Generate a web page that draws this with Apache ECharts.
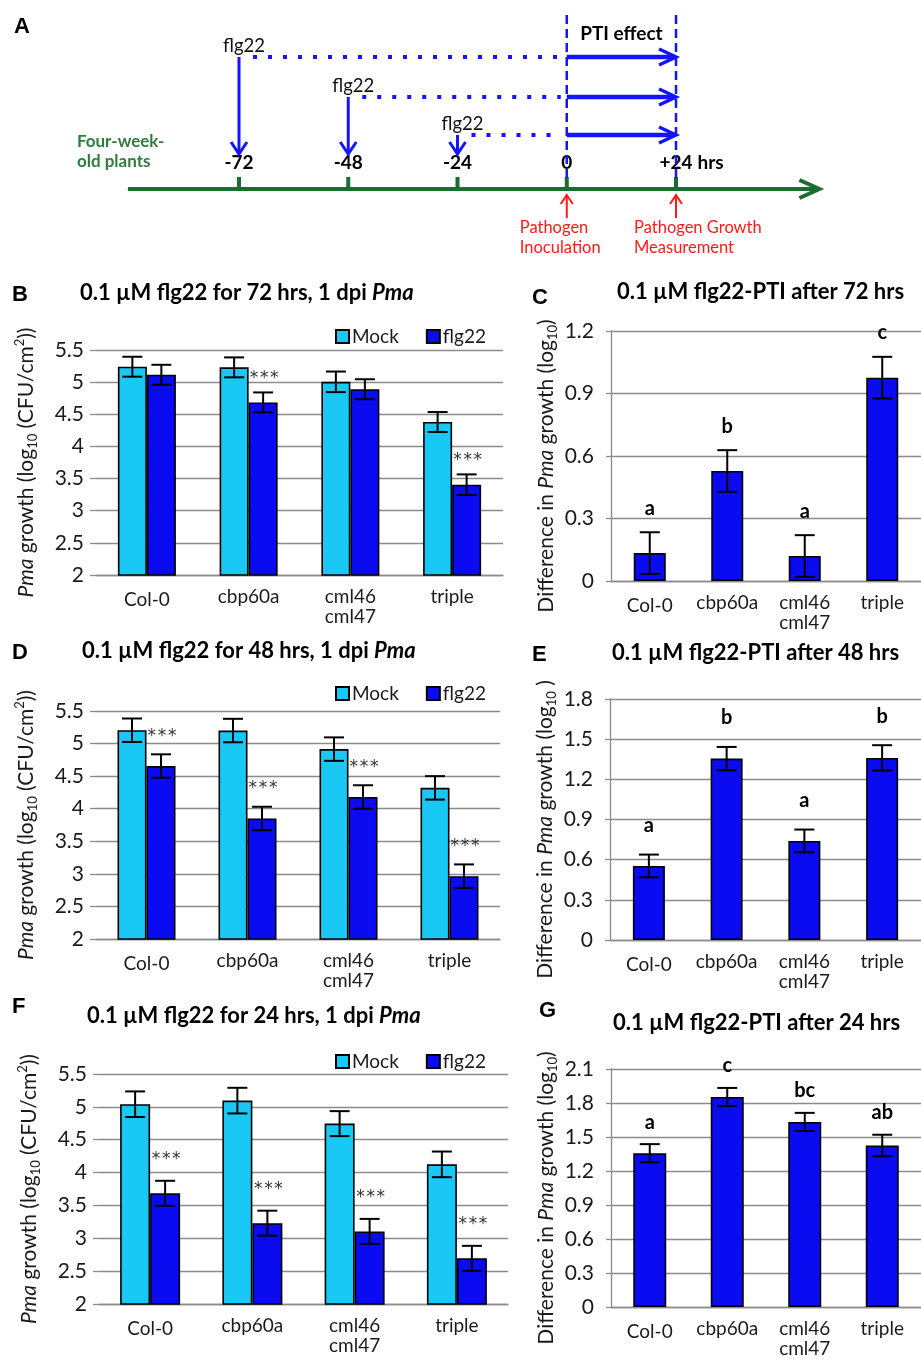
<!DOCTYPE html>
<html><head><meta charset="utf-8">
<script src="https://cdn.jsdelivr.net/npm/echarts@6/dist/echarts.min.js"></script>
<style>html,body{margin:0;padding:0;background:#fff}#c{width:921px;height:1359px}</style>
</head><body><div id="c"></div>
<script>
// ---------------- DATA ----------------
const categories = ['Col-0', 'cbp60a', 'cml46\ncml47', 'triple'];
const seriesNames = ['Mock', 'flg22'];

// Panel B: 0.1 uM flg22 for 72 hrs
const mock72 = [5.24, 5.23, 5.005, 4.38];
const mock72Err = [0.155, 0.155, 0.16, 0.155];
const flg72 = [5.115, 4.685, 4.89, 3.405];
const flg72Err = [0.155, 0.155, 0.155, 0.16];
const sig72 = ['', '***', '', '***'];
// Panel C
const diff72 = [0.134, 0.528, 0.12, 0.976];
const diff72Err = [0.1, 0.1, 0.1, 0.1];
const letters72 = ['a', 'b', 'a', 'c'];

// Panel D: 48 hrs
const mock48 = [5.205, 5.2, 4.915, 4.32];
const mock48Err = [0.18, 0.18, 0.18, 0.18];
const flg48 = [4.655, 3.85, 4.18, 2.965];
const flg48Err = [0.18, 0.18, 0.18, 0.18];
const sig48 = ['***', '***', '***', '***'];
// Panel E
const diff48 = [0.553, 1.355, 0.74, 1.36];
const diff48Err = [0.085, 0.087, 0.085, 0.095];
const letters48 = ['a', 'b', 'a', 'b'];

// Panel F: 24 hrs
const mock24 = [5.04, 5.095, 4.745, 4.125];
const mock24Err = [0.195, 0.195, 0.19, 0.195];
const flg24 = [3.685, 3.23, 3.105, 2.695];
const flg24Err = [0.19, 0.19, 0.19, 0.19];
const sig24 = ['***', '***', '***', '***'];
// Panel G
const diff24 = [1.357, 1.853, 1.633, 1.425];
const diff24Err = [0.08, 0.08, 0.08, 0.095];
const letters24 = ['a', 'c', 'bc', 'ab'];

// Axis ticks
const growthAxis = {min: 2, max: 5.5, interval: 0.5};
const diffAxes = [{min: 0, max: 1.2, interval: 0.3}, {min: 0, max: 1.8, interval: 0.3}, {min: 0, max: 2.1, interval: 0.3}];

// Panel A: timeline (hours)
const timelineTicks = [-72, -48, -24, 0, 24];
const timelineLabels = ['-72', '-48', '-24', '0', '+24'];
const timelineUnit = 'hrs';
const flgTimes = [-72, -48, -24];
const ptiWindow = [0, 24];

// ---------------- STYLE / LAYOUT ----------------
const FONT = 'Lato, "Open Sans", sans-serif';
const LETTER_FONT = '"Liberation Sans", Arial, sans-serif';
const STAR_FONT = '"DejaVu Sans", sans-serif';
const CYAN = '#1AC8F6', BLUE = '#0B0BF2', GRIDC = '#8C8C8C', TXT = '#1a1a1a';
const ABLUE = '#1414FF', AGREEN = '#1B6B33', TGREEN = '#2E7D3E', RED = '#FF1A1A';
const FS = 19;      // category / legend text
const TFS = 22;     // titles
const YFS = 21;     // value-axis tick labels
const NFS = 21;     // axis names

const A = {axisStart: -96.4, axisEnd: 55.5, lineY: 189, tickTop: 177, labelY: 163,
  lanes: [57, 97, 135], tipY: 154, dashTop: 15, dashBottom: 178, ptiY: 34,
  redTip: 195, redBottom: 218, red1: 228, red2: 248};

const chart = echarts.init(document.getElementById('c'), null, {renderer: 'canvas', width: 921, height: 1359});

const mctx = document.createElement('canvas').getContext('2d');
function textW(t, font) { mctx.font = font; return mctx.measureText(t).width; }

function chev(tip, dx, dy, len, half) {
  const bx = tip[0] - dx * len, by = tip[1] - dy * len;
  const px = -dy, py = dx;
  return [[bx + px * half, by + py * half], tip, [bx - px * half, by - py * half]];
}

const grids = [], xAxes = [], yAxes = [], series = [], legends = [], titles = [];

// ---- Panel A grid ----
grids.push({left: 66, top: 0, width: 755.7, height: 260});
xAxes.push({gridIndex: 0, type: 'value', min: -110, max: 56, show: false, splitLine: {show: false}});
yAxes.push({gridIndex: 0, type: 'value', min: 0, max: 260, inverse: true, show: false, splitLine: {show: false}});

// timeline
series.push({type: 'custom', xAxisIndex: 0, yAxisIndex: 0, silent: true, data: [[A.axisStart, A.axisEnd]],
  renderItem(params, api) {
    const p1 = api.coord([api.value(0), A.lineY]);
    const p2 = api.coord([api.value(1), A.lineY]);
    const st = {stroke: AGREEN, lineWidth: 4, fill: null};
    return {type: 'group', children: [
      {type: 'line', shape: {x1: p1[0], y1: p1[1], x2: p2[0] - 2, y2: p2[1]}, style: st},
      {type: 'polyline', shape: {points: chev([p2[0], p2[1]], 1, 0, 20, 9)}, style: st},
      {type: 'text', style: {text: 'Four-week-', x: p1[0] - 51, y: 142, align: 'left', verticalAlign: 'middle', font: 'bold 17px ' + FONT, fill: TGREEN}},
      {type: 'text', style: {text: 'old plants', x: p1[0] - 51, y: 162, align: 'left', verticalAlign: 'middle', font: 'bold 17px ' + FONT, fill: TGREEN}}
    ]};
  }});
// ticks + labels
series.push({type: 'custom', xAxisIndex: 0, yAxisIndex: 0, silent: true, data: timelineTicks.map(t => [t]),
  renderItem(params, api) {
    const p = api.coord([api.value(0), A.lineY]);
    const top = api.coord([api.value(0), A.tickTop]);
    const font = 'bold ' + FS + 'px ' + FONT;
    const lab = timelineLabels[params.dataIndex];
    const ch = [
      {type: 'line', shape: {x1: p[0], y1: top[1], x2: p[0], y2: p[1]}, style: {stroke: AGREEN, lineWidth: 4}},
      {type: 'text', style: {text: lab, x: p[0], y: A.labelY, align: 'center', verticalAlign: 'middle', font: font, fill: '#000'}}
    ];
    if (params.dataIndex === timelineTicks.length - 1) {
      ch.push({type: 'text', style: {text: timelineUnit, x: p[0] + textW(lab, font) / 2 + 5, y: A.labelY, align: 'left', verticalAlign: 'middle', font: font, fill: '#000'}});
    }
    return {type: 'group', children: ch};
  }});
// flg22 treatments
series.push({type: 'custom', xAxisIndex: 0, yAxisIndex: 0, silent: true, data: flgTimes.map(t => [t]),
  renderItem(params, api) {
    const lane = A.lanes[params.dataIndex];
    const p = api.coord([api.value(0), lane]);
    const tip = api.coord([api.value(0), A.tipY]);
    const s0 = api.coord([ptiWindow[0], lane]);
    const s1 = api.coord([ptiWindow[1], lane]);
    const st = {stroke: ABLUE, lineWidth: 3, fill: null};
    return {type: 'group', children: [
      {type: 'line', shape: {x1: p[0], y1: p[1], x2: tip[0], y2: tip[1] - 1}, style: st},
      {type: 'polyline', shape: {points: chev(tip, 0, 1, 12, 8)}, style: st},
      {type: 'text', style: {text: 'flg22', x: p[0] + 5, y: p[1] - 11, align: 'center', verticalAlign: 'middle', font: '18.5px ' + FONT, fill: '#111'}},
      {type: 'line', shape: {x1: p[0] + 14, y1: p[1], x2: s0[0] - 6, y2: p[1]}, style: {stroke: ABLUE, lineWidth: 4, lineDash: [4, 11], lineCap: 'butt'}},
      {type: 'line', shape: {x1: s0[0], y1: s0[1], x2: s1[0] - 2, y2: s1[1]}, style: {stroke: ABLUE, lineWidth: 4.5}},
      {type: 'polyline', shape: {points: chev([s1[0], s1[1]], 1, 0, 17, 8)}, style: {stroke: ABLUE, lineWidth: 3.5, fill: null}}
    ]};
  }});
// PTI window: dashed verticals, red pathogen arrows
series.push({type: 'custom', xAxisIndex: 0, yAxisIndex: 0, silent: true, data: ptiWindow.map(t => [t]),
  renderItem(params, api) {
    const t = api.value(0);
    const top = api.coord([t, A.dashTop]);
    const bot = api.coord([t, A.dashBottom]);
    const rt = api.coord([t, A.redTip]);
    const rb = api.coord([t, A.redBottom]);
    const rst = {stroke: RED, lineWidth: 2, fill: null};
    const lines = params.dataIndex === 0 ? ['Pathogen', 'Inoculation'] : ['Pathogen Growth', 'Measurement'];
    const lx = params.dataIndex === 0 ? rt[0] - 47 : rt[0] - 42;
    const ch = [
      {type: 'line', shape: {x1: top[0], y1: top[1], x2: bot[0], y2: bot[1]}, style: {stroke: ABLUE, lineWidth: 2.5, lineDash: [9, 5]}},
      {type: 'line', shape: {x1: rb[0], y1: rb[1], x2: rt[0], y2: rt[1] + 1}, style: rst},
      {type: 'polyline', shape: {points: chev(rt, 0, -1, 9, 6)}, style: rst},
      {type: 'text', style: {text: lines[0], x: lx, y: A.red1, align: 'left', verticalAlign: 'middle', font: '16.5px ' + FONT, fill: RED}},
      {type: 'text', style: {text: lines[1], x: lx, y: A.red2, align: 'left', verticalAlign: 'middle', font: '16.5px ' + FONT, fill: RED}}
    ];
    if (params.dataIndex === 0) {
      const mid = api.coord([(ptiWindow[0] + ptiWindow[1]) / 2, A.ptiY]);
      ch.push({type: 'text', style: {text: 'PTI effect', x: mid[0], y: mid[1], align: 'center', verticalAlign: 'middle', font: 'bold ' + FS + 'px ' + FONT, fill: '#000'}});
    }
    return {type: 'group', children: ch};
  }});

// ---- helpers for bar panels ----
function errSeries(ai, vals, errs, offset, cap) {
  return {type: 'custom', xAxisIndex: ai, yAxisIndex: ai, silent: true, z: 5,
    encode: {x: 0, y: [1, 2]},
    data: vals.map((v, j) => [j, v - errs[j], v + errs[j]]),
    renderItem(params, api) {
      const hi = api.coord([api.value(0), api.value(2)]);
      const lo = api.coord([api.value(0), api.value(1)]);
      const x = hi[0] + offset;
      const st = {stroke: '#000', lineWidth: 2};
      return {type: 'group', children: [
        {type: 'line', shape: {x1: x, y1: hi[1], x2: x, y2: lo[1]}, style: st},
        {type: 'line', shape: {x1: x - cap, y1: hi[1], x2: x + cap, y2: hi[1]}, style: st},
        {type: 'line', shape: {x1: x - cap, y1: lo[1], x2: x + cap, y2: lo[1]}, style: st}
      ]};
    }};
}
function annSeries(ai, vals, errs, texts, offset, gap, font, color, vAlign, sep) {
  return {type: 'custom', xAxisIndex: ai, yAxisIndex: ai, silent: true, z: 6,
    data: vals.map((v, j) => [j, v + errs[j]]),
    renderItem(params, api) {
      let t = texts[params.dataIndex];
      if (!t) return null;
      if (sep) t = t.split('').join(sep);
      const p = api.coord([api.value(0), api.value(1)]);
      return {type: 'text', style: {text: t, x: p[0] + offset, y: p[1] - gap, align: 'center', verticalAlign: vAlign, font: font, fill: color}};
    }};
}
const catLabel = {interval: 0, fontFamily: FONT, fontSize: FS, color: TXT, margin: 12, lineHeight: 20,
  formatter: v => v === 'Col-0' ? '{low|Col-0}' : v,
  rich: {low: {fontFamily: FONT, fontSize: FS, color: TXT, padding: [6, 0, 0, 0]}}};
const nameRich = {
  i: {fontFamily: FONT, fontSize: NFS, fontStyle: 'italic', color: TXT, lineHeight: 26},
  sub: {fontFamily: FONT, fontSize: 13, color: TXT, verticalAlign: 'bottom', lineHeight: 13},
  sup: {fontFamily: FONT, fontSize: 13, color: TXT, verticalAlign: 'top', lineHeight: 13}
};

// ---- left panels B, D, F ----
const leftPanels = [
  {grid: {left: 96, top: 350, width: 407, height: 225}, mock: mock72, mockErr: mock72Err, flg: flg72, flgErr: flg72Err, sig: sig72, legendTop: 327, starGap: 14, barW: 29},
  {grid: {left: 96, top: 711, width: 404, height: 228}, mock: mock48, mockErr: mock48Err, flg: flg48, flgErr: flg48Err, sig: sig48, legendTop: 684, starGap: 18, barW: 29},
  {grid: {left: 99, top: 1074, width: 409, height: 230}, mock: mock24, mockErr: mock24Err, flg: flg24, flgErr: flg24Err, sig: sig24, legendTop: 1052, starGap: 21, barW: 30}
];
leftPanels.forEach((P, k) => {
  const ai = grids.length;
  grids.push(P.grid);
  xAxes.push({gridIndex: ai, type: 'category', data: categories,
    axisLine: {show: true, lineStyle: {color: GRIDC, width: 1.3}}, axisTick: {show: false}, axisLabel: catLabel});
  yAxes.push({gridIndex: ai, type: 'value', min: growthAxis.min, max: growthAxis.max, interval: growthAxis.interval,
    axisLine: {show: false}, axisTick: {show: true, length: 6, lineStyle: {color: GRIDC, width: 1.3}},
    splitLine: {lineStyle: {color: GRIDC, width: 1.3}},
    axisLabel: {fontFamily: FONT, fontSize: YFS, color: TXT, margin: 12},
    name: '{i|Pma} growth (log{sub|10} (CFU/cm{sup|2}))', nameLocation: 'middle', nameRotate: 90, nameGap: 57,
    nameTextStyle: {fontFamily: FONT, fontSize: NFS, color: TXT, lineHeight: 26, rich: nameRich}});
  series.push({name: seriesNames[0], type: 'bar', xAxisIndex: ai, yAxisIndex: ai, data: P.mock, barWidth: P.barW, barGap: '0%',
    itemStyle: {color: CYAN, borderColor: '#000', borderWidth: 1.6}});
  series.push({name: seriesNames[1], type: 'bar', xAxisIndex: ai, yAxisIndex: ai, data: P.flg, barWidth: P.barW, barGap: '0%',
    itemStyle: {color: BLUE, borderColor: '#000', borderWidth: 1.6}});
  series.push(errSeries(ai, P.mock, P.mockErr, -P.barW / 2, 10));
  series.push(errSeries(ai, P.flg, P.flgErr, P.barW / 2, 10));
  series.push(annSeries(ai, P.flg, P.flgErr, P.sig, P.barW / 2 + 1, P.starGap, '17px ' + STAR_FONT, '#333', 'middle', '\u200A'));
  legends.push({top: P.legendTop, left: 335, itemWidth: 13, itemHeight: 13, itemGap: 27, icon: 'rect', selectedMode: false,
    data: seriesNames, padding: 0, textStyle: {fontFamily: FONT, fontSize: FS, color: TXT, padding: [0, 0, 0, -2]}});
});

// ---- right panels C, E, G ----
const rightPanels = [
  {grid: {left: 611, top: 331, width: 313, height: 250}, vals: diff72, err: diff72Err, letters: letters72, axis: diffAxes[0], gap: 14, barW: 32, tail: ')'},
  {grid: {left: 610, top: 699, width: 318, height: 241}, vals: diff48, err: diff48Err, letters: letters48, axis: diffAxes[1], gap: 19, barW: 32, tail: ' )'},
  {grid: {left: 611, top: 1069, width: 318, height: 242}, vals: diff24, err: diff24Err, letters: letters24, axis: diffAxes[2], gap: 12, barW: 33, tail: ')'}
];
rightPanels.forEach((P, k) => {
  const ai = grids.length;
  grids.push(P.grid);
  xAxes.push({gridIndex: ai, type: 'category', data: categories,
    axisLine: {show: true, lineStyle: {color: GRIDC, width: 1.3}}, axisTick: {show: false}, axisLabel: catLabel});
  yAxes.push({gridIndex: ai, type: 'value', min: P.axis.min, max: P.axis.max, interval: P.axis.interval,
    axisLine: {show: true, lineStyle: {color: GRIDC, width: 1.3}}, axisTick: {show: true, length: 5, lineStyle: {color: GRIDC, width: 1.3}},
    splitLine: {lineStyle: {color: GRIDC, width: 1.3}},
    axisLabel: {fontFamily: FONT, fontSize: YFS, color: TXT, margin: 17},
    name: 'Difference in {i|Pma} growth (log{sub|10}' + P.tail, nameLocation: 'middle', nameRotate: 90, nameGap: 52,
    nameTextStyle: {fontFamily: FONT, fontSize: NFS, color: TXT, lineHeight: 26, padding: [0, 20, 0, 0], rich: nameRich}});
  series.push({name: 'Difference', type: 'bar', xAxisIndex: ai, yAxisIndex: ai, data: P.vals, barWidth: P.barW,
    itemStyle: {color: BLUE, borderColor: '#000', borderWidth: 1.6}});
  series.push(errSeries(ai, P.vals, P.err, 0, 10));
  series.push(annSeries(ai, P.vals, P.err, P.letters, 0, P.gap, 'bold 20px ' + FONT, '#000', 'bottom'));
});

// ---- titles ----
const tStyle = {fontFamily: FONT, fontWeight: 'bold', fontSize: TFS, color: '#000',
  rich: {i: {fontFamily: FONT, fontWeight: 'bold', fontStyle: 'italic', fontSize: TFS, color: '#000'}}};
const lStyle = {fontFamily: LETTER_FONT, fontWeight: 'bold', fontSize: 22, color: '#000'};
[['A', 14, 16], ['B', 12, 284], ['C', 532, 287], ['D', 12, 642], ['E', 532, 644], ['F', 12, 996], ['G', 539, 1000]]
  .forEach(([t, l, tp]) => titles.push({text: t, left: l, top: tp, padding: 0, textStyle: lStyle}));
[['0.1 µM flg22 for 72 hrs, 1 dpi {i|Pma}', 80, 282], ['0.1 µM flg22-PTI after 72 hrs', 617, 281],
 ['0.1 µM flg22 for 48 hrs, 1 dpi {i|Pma}', 82, 640], ['0.1 µM flg22-PTI after 48 hrs', 612, 642],
 ['0.1 µM flg22 for 24 hrs, 1 dpi {i|Pma}', 87, 1005], ['0.1 µM flg22-PTI after 24 hrs', 613, 1012]]
  .forEach(([t, l, tp]) => titles.push({text: t, left: l, top: tp, padding: 0, textStyle: tStyle}));

chart.setOption({
  animation: false,
  backgroundColor: '#fff',
  title: titles,
  legend: legends,
  grid: grids,
  xAxis: xAxes,
  yAxis: yAxes,
  series: series
});
</script>
</body></html>
